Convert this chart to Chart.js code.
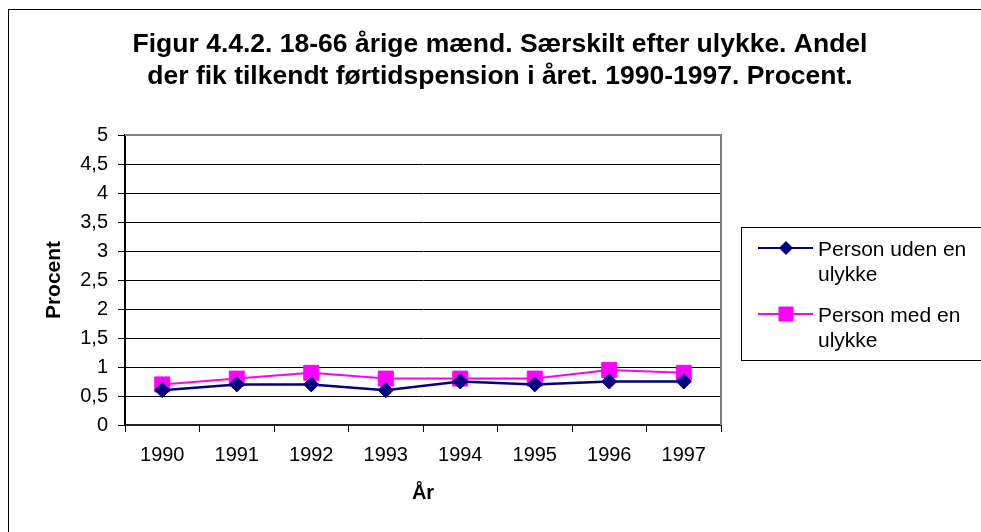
<!DOCTYPE html>
<html>
<head>
<meta charset="utf-8">
<script src="https://cdn.jsdelivr.net/npm/chart.js@4/dist/chart.umd.min.js"></script>
<style>
  html, body { margin: 0; padding: 0; background: #fff; }
  #wrap { width: 981px; height: 532px; }
</style>
</head>
<body>
<div id="wrap"><canvas id="chart" width="981" height="532"></canvas></div>
<script>
// chart values
const years = ['1990', '1991', '1992', '1993', '1994', '1995', '1996', '1997'];
const udenUlykke = [0.6, 0.7, 0.7, 0.6, 0.75, 0.7, 0.75, 0.75];
const medUlykke = [0.7, 0.8, 0.9, 0.8, 0.8, 0.8, 0.95, 0.9];
const yTickLabels = ['0', '0,5', '1', '1,5', '2', '2,5', '3', '3,5', '4', '4,5', '5'];
const titleLines = [
    'Figur 4.4.2. 18-66 årige mænd. Særskilt efter ulykke. Andel',
    'der fik tilkendt førtidspension i året. 1990-1997. Procent.'
];
const seriesNames = [['Person uden en', 'ulykke'], ['Person med en', 'ulykke']];

const FONT = 'Arial, "Liberation Sans", sans-serif';

// title, frame and legend drawn by hand
const decorations = {
    id: 'decorations',
    afterDraw(chart) {
        const ctx = chart.ctx;
        const area = chart.chartArea;
        ctx.save();

        // outer frame (runs off the picture on right/bottom)
        ctx.strokeStyle = '#000';
        ctx.lineWidth = 1;
        ctx.strokeRect(8.5, 9.5, 1000, 600);

        // title
        ctx.fillStyle = '#000';
        ctx.font = 'bold 26.5px ' + FONT;
        ctx.textAlign = 'center';
        ctx.textBaseline = 'alphabetic';
        ctx.fillText(titleLines[0], 500, 52);
        ctx.fillText(titleLines[1], 500, 84);

        // grey plot border top / right
        ctx.strokeStyle = '#808080';
        ctx.lineWidth = 2;
        ctx.beginPath();
        ctx.moveTo(area.left, area.top);
        ctx.lineTo(area.right, area.top);
        ctx.lineTo(area.right, area.bottom);
        ctx.stroke();

        // legend
        ctx.strokeStyle = '#000';
        ctx.lineWidth = 1;
        ctx.strokeRect(741.5, 227.5, 300, 133);
        const rows = [248, 314];
        chart.data.datasets.forEach((ds, i) => {
            const y = rows[i];
            ctx.strokeStyle = ds.borderColor;
            ctx.lineWidth = 2;
            ctx.beginPath();
            ctx.moveTo(758, y);
            ctx.lineTo(813, y);
            ctx.stroke();
            ctx.fillStyle = ds.pointBackgroundColor;
            if (ds.pointStyle === 'rect') {
                ctx.fillRect(778.5, y - 7.5, 15, 15);
            } else {
                ctx.beginPath();
                ctx.moveTo(786, y - 7);
                ctx.lineTo(793, y);
                ctx.lineTo(786, y + 7);
                ctx.lineTo(779, y);
                ctx.closePath();
                ctx.fill();
            }
            ctx.fillStyle = '#000';
            ctx.font = '21px ' + FONT;
            ctx.textAlign = 'left';
            ctx.textBaseline = 'alphabetic';
            seriesNames[i].forEach((t, k) => ctx.fillText(t, 818, y + 8 + k * 25));
        });
        ctx.restore();
    }
};

new Chart(document.getElementById('chart'), {
    type: 'line',
    data: {
        labels: years,
        datasets: [
            {
                label: seriesNames[0].join(' '),
                data: udenUlykke,
                borderColor: '#000080',
                backgroundColor: '#000080',
                pointBackgroundColor: '#000080',
                pointBorderColor: '#000080',
                pointStyle: 'rectRot',
                pointRadius: 7.5,
                pointBorderWidth: 1,
                borderWidth: 2.5,
                tension: 0
            },
            {
                label: seriesNames[1].join(' '),
                data: medUlykke,
                borderColor: '#ff00ff',
                backgroundColor: '#ff00ff',
                pointBackgroundColor: '#ff00ff',
                pointBorderColor: '#ff00ff',
                pointStyle: 'rect',
                pointRadius: 10.6,
                pointBorderWidth: 1,
                borderWidth: 2,
                tension: 0
            }
        ]
    },
    options: {
        responsive: false,
        animation: false,
        layout: { padding: { left: 0, right: 260, top: 135, bottom: 0 } },
        plugins: {
            legend: { display: false },
            title: { display: false },
            tooltip: { enabled: false }
        },
        scales: {
            x: {
                offset: true,
                grid: {
                    offset: true,
                    drawOnChartArea: false,
                    drawTicks: true,
                    tickLength: 7,
                    color: '#000'
                },
                border: { color: '#222', width: 2 },
                ticks: {
                    color: '#000',
                    font: { family: FONT, size: 20 },
                    padding: 11,
                    maxRotation: 0
                },
                title: {
                    display: true,
                    text: 'År',
                    color: '#000',
                    font: { family: FONT, size: 20, weight: 'bold' },
                    padding: { top: 0, bottom: 27 }
                },
                afterFit(scale) { scale.height = 107; }
            },
            y: {
                min: 0,
                max: 5,
                grid: {
                    color: '#000',
                    tickLength: 7,
                    lineWidth: 1
                },
                border: { color: '#000', width: 2 },
                ticks: {
                    stepSize: 0.5,
                    color: '#000',
                    font: { family: FONT, size: 20 },
                    padding: 10,
                    callback: (v, i) => yTickLabels[i]
                },
                title: {
                    display: true,
                    text: 'Procent',
                    color: '#000',
                    font: { family: FONT, size: 21, weight: 'bold' },
                    padding: { top: 42, bottom: 0 }
                },
                afterFit(scale) { scale.width = 125; }
            }
        }
    },
    plugins: [decorations]
});
</script>
</body>
</html>
